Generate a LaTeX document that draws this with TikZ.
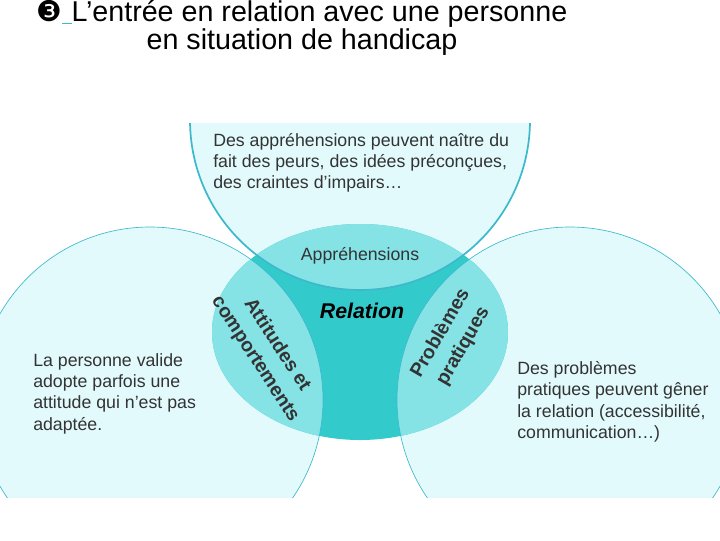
\documentclass[tikz,border=0pt]{standalone}
\usepackage{fontspec}
\setmainfont{Liberation Sans}
\newfontfamily\djv{DejaVu Sans}
\definecolor{lite}{HTML}{E2FAFC}
\definecolor{mid}{HTML}{85E3E6}
\definecolor{dark}{HTML}{33CACC}
\definecolor{edge}{HTML}{3EB9CC}
\definecolor{txt}{HTML}{333333}
\begin{document}
\begin{tikzpicture}[x=0.75pt,y=-0.75pt,
  body/.style={font=\fontsize{13.3}{16}\selectfont,text=txt,align=left,anchor=north west,inner sep=0},
  lab/.style={font=\bfseries\fontsize{14.5}{19.5}\selectfont,text=txt,align=center,inner sep=0}]
\useasboundingbox (0,0) rectangle (720,540);
\begin{scope}
\clip (0,123) rectangle (720,497);
\fill[lite] (360,120) circle (170);
\fill[lite] (150,400) circle (173);
\fill[lite] (570,400) circle (173);
\fill[dark] (360,332) ellipse (148 and 108);
\begin{scope}
\clip (360,332) ellipse (148 and 108);
\fill[mid] (360,120) circle (170);
\fill[mid] (150,400) circle (173);
\fill[mid] (570,400) circle (173);
\end{scope}
\draw[edge,line width=0.5pt] (150,400) circle (173);
\draw[edge,line width=0.5pt] (570,400) circle (173);
\draw[edge,line width=1.3pt] (360,120) circle (170);
\end{scope}
\node[font=\fontsize{21.5}{20}\selectfont,align=center,inner sep=0] (title) at (302,28)
 {{\djv ❸}\textcolor{edge}{\rule[-2pt]{7pt}{0.8pt}}L’entrée en relation avec une personne\\ en situation de handicap};
\node[body] (t1) at (213,133) {Des appréhensions peuvent naître du\\fait des peurs, des idées préconçues,\\des craintes d’impairs…};
\node[body] (t2) at (33,353) {La personne valide\\adopte parfois une\\attitude qui n’est pas\\adaptée.};
\node[body] (t3) at (517,361) {Des problèmes\\pratiques peuvent gêner\\la relation (accessibilité,\\communication…)};
\node[font=\fontsize{13.3}{14}\selectfont,text=txt,inner sep=0] (ap) at (360,256) {Appréhensions};
\node[font=\bfseries\itshape\fontsize{16}{17}\selectfont,inner sep=0] (rel) at (362,311) {Relation};
\node[lab,rotate=-57] (att) at (266,352) {Attitudes et\\comportements};
\node[lab,rotate=60] (pro) at (452,340) {Problèmes\\pratiques};
\end{tikzpicture}
\end{document}
